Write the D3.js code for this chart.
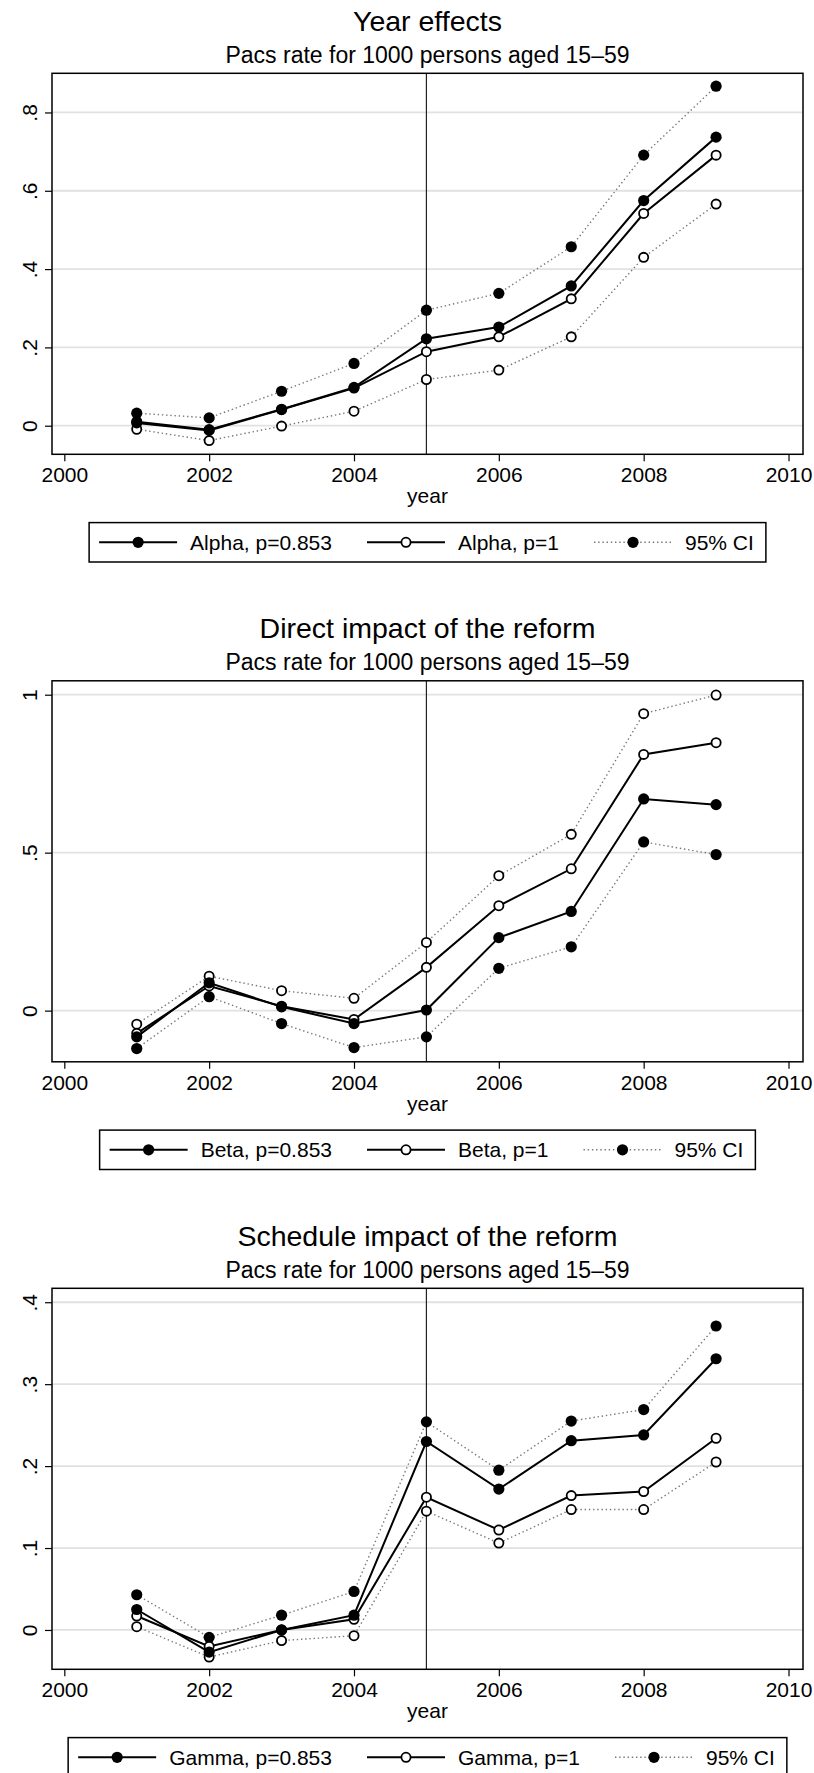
<!DOCTYPE html>
<html>
<head>
<meta charset="utf-8">
<script src="https://cdn.jsdelivr.net/npm/d3@7"></script>
<style>
html,body{margin:0;padding:0;background:#fff;}
svg{display:block;font-family:"Liberation Sans",Arial,Helvetica,sans-serif;}
</style>
</head>
<body>
<svg id="chart" width="814" height="1773"></svg>
<script>
// ---------------- data ----------------
const years = [2001, 2002, 2003, 2004, 2005, 2006, 2007, 2008, 2009];
const xTicks = [2000, 2002, 2004, 2006, 2008, 2010];
const reformYear = 2005;

const panelTitles = ["Year effects", "Direct impact of the reform", "Schedule impact of the reform"];
const subtitleText = "Pacs rate for 1000 persons aged 15\u201359";
const xAxisTitle = "year";

// Year effects (Alpha)
const alpha853   = [0.010, -0.010, 0.042, 0.098, 0.222, 0.252, 0.357, 0.575, 0.737];
const alpha1     = [0.007, -0.012, 0.041, 0.096, 0.189, 0.227, 0.324, 0.542, 0.691];
const alphaCIhi  = [0.032, 0.020, 0.088, 0.159, 0.295, 0.338, 0.457, 0.691, 0.867];
const alphaCIlo  = [-0.009, -0.038, -0.001, 0.037, 0.118, 0.142, 0.227, 0.430, 0.566];

// Direct impact (Beta)
const beta853    = [-0.083, 0.088, 0.012, -0.041, 0.002, 0.231, 0.314, 0.670, 0.652];
const beta1      = [-0.072, 0.078, 0.014, -0.028, 0.137, 0.332, 0.449, 0.811, 0.848];
const betaCIhi   = [-0.043, 0.109, 0.063, 0.039, 0.216, 0.427, 0.558, 0.940, 0.999];
const betaCIlo   = [-0.120, 0.044, -0.041, -0.117, -0.083, 0.134, 0.202, 0.534, 0.494];

// Schedule impact (Gamma)
const gamma853   = [0.025, -0.027, 0.000, 0.018, 0.230, 0.172, 0.231, 0.238, 0.331];
const gamma1     = [0.017, -0.020, 0.000, 0.013, 0.162, 0.122, 0.164, 0.169, 0.234];
const gammaCIhi  = [0.043, -0.009, 0.018, 0.047, 0.254, 0.195, 0.255, 0.269, 0.371];
const gammaCIlo  = [0.004, -0.033, -0.013, -0.007, 0.145, 0.106, 0.147, 0.147, 0.205];

const legendLabels = [
  ["Alpha, p=0.853", "Alpha, p=1", "95% CI"],
  ["Beta, p=0.853", "Beta, p=1", "95% CI"],
  ["Gamma, p=0.853", "Gamma, p=1", "95% CI"]
];

const yTicks = [[0, 0.2, 0.4, 0.6, 0.8], [0, 0.5, 1], [0, 0.1, 0.2, 0.3, 0.4]];
const yTickLabels = [["0", ".2", ".4", ".6", ".8"], ["0", ".5", "1"], ["0", ".1", ".2", ".3", ".4"]];
const yDomains = [[-0.073, 0.900], [-0.162, 1.044], [-0.048, 0.417]];
const xDomain = [1999.83, 2010.2];

// series per panel: filled main, hollow main, CI with filled markers, CI with hollow markers
const panelSeries = [
  { filled: alpha853, hollow: alpha1, ciFilled: alphaCIhi, ciHollow: alphaCIlo },
  { filled: beta853,  hollow: beta1,  ciFilled: betaCIlo,  ciHollow: betaCIhi },
  { filled: gamma853, hollow: gamma1, ciFilled: gammaCIhi, ciHollow: gammaCIlo }
];

// ---------------- layout ----------------
const panelH = 607.5;
const frameL = 52, frameR = 803;
const frameTopOff = 73.3, frameH = 381;
const fs = { title: 28.5, sub: 23, tick: 21, legend: 21, axis: 21 };
const rFilled = 5.6, rHollow = 4.6;

const svg = d3.select("#chart");

const x = d3.scaleLinear().domain(xDomain).range([frameL, frameR]);
const cx = (frameL + frameR) / 2;

panelTitles.forEach((title, i) => {
  const top = i * panelH;
  const fTop = top + frameTopOff, fBot = fTop + frameH;
  const y = d3.scaleLinear().domain(yDomains[i]).range([fBot, fTop]);
  const g = svg.append("g");

  // titles
  g.append("text").attr("x", cx).attr("y", top + 30.8).attr("text-anchor", "middle")
    .attr("font-size", fs.title).attr("fill", "#000").text(title);
  g.append("text").attr("x", cx).attr("y", top + 62.5).attr("text-anchor", "middle")
    .attr("font-size", fs.sub).attr("fill", "#000").text(subtitleText);

  // gridlines
  g.append("g").selectAll("line").data(yTicks[i]).join("line")
    .attr("x1", frameL).attr("x2", frameR)
    .attr("y1", d => y(d)).attr("y2", d => y(d))
    .attr("stroke", "#e1e1e1").attr("stroke-width", 1.8);

  // reform line
  g.append("line").attr("x1", x(reformYear)).attr("x2", x(reformYear))
    .attr("y1", fTop).attr("y2", fBot).attr("stroke", "#222").attr("stroke-width", 1.2);

  // y axis
  const yAxis = d3.axisLeft(y).tickValues(yTicks[i]).tickSize(7)
    .tickFormat((d, k) => yTickLabels[i][k]);
  const ya = g.append("g").attr("transform", `translate(${frameL},0)`).call(yAxis);
  ya.select(".domain").remove();
  ya.selectAll(".tick line").attr("stroke", "#000").attr("stroke-width", 1.2);
  ya.selectAll(".tick text")
    .attr("font-size", fs.tick).attr("font-family", null).attr("fill", "#000")
    .attr("text-anchor", "middle").attr("x", null).attr("dy", null)
    .attr("transform", "translate(-15.5,0) rotate(-90)");

  // x axis
  const xAxis = d3.axisBottom(x).tickValues(xTicks).tickSize(7).tickFormat(d3.format("d"));
  const xa = g.append("g").attr("transform", `translate(0,${fBot})`).call(xAxis);
  xa.select(".domain").remove();
  xa.selectAll(".tick line").attr("stroke", "#000").attr("stroke-width", 1.2);
  xa.selectAll(".tick text").attr("font-size", fs.tick).attr("font-family", null)
    .attr("fill", "#000").attr("y", 28).attr("dy", null);

  g.append("text").attr("x", cx).attr("y", fBot + 48.7).attr("text-anchor", "middle")
    .attr("font-size", fs.axis).attr("fill", "#000").text(xAxisTitle);

  // series
  const s = panelSeries[i];
  const line = d3.line().x((d, k) => x(years[k])).y(d => y(d));
  const dotted = (vals) => g.append("path").datum(vals).attr("d", line)
    .attr("fill", "none").attr("stroke", "#777").attr("stroke-width", 1.4)
    .attr("stroke-dasharray", "1.4,2.8");
  const solid = (vals) => g.append("path").datum(vals).attr("d", line)
    .attr("fill", "none").attr("stroke", "#000").attr("stroke-width", 2);
  const filledPts = (vals) => g.append("g").selectAll("circle").data(vals).join("circle")
    .attr("cx", (d, k) => x(years[k])).attr("cy", d => y(d)).attr("r", rFilled).attr("fill", "#000");
  const hollowPts = (vals) => g.append("g").selectAll("circle").data(vals).join("circle")
    .attr("cx", (d, k) => x(years[k])).attr("cy", d => y(d)).attr("r", rHollow)
    .attr("fill", "#fff").attr("stroke", "#000").attr("stroke-width", 1.8);

  dotted(s.ciFilled); dotted(s.ciHollow);
  solid(s.filled); solid(s.hollow);
  filledPts(s.ciFilled); hollowPts(s.ciHollow);
  hollowPts(s.hollow); filledPts(s.filled);

  // frame
  g.append("rect").attr("x", frameL).attr("y", fTop).attr("width", frameR - frameL)
    .attr("height", frameH).attr("fill", "none").attr("stroke", "#000").attr("stroke-width", 1.5);

  // legend
  const lgTop = fBot + 68.3, lgH = 39.4, lgMid = lgTop + lgH / 2;
  const keyW = 78, keyGap = 13, itemGap = 35, padL = 10, padR = 12;
  const lg = g.append("g");
  const box = lg.append("rect");
  const items = lg.selectAll("g.item").data(legendLabels[i]).join("g").attr("class", "item");
  const texts = items.append("text").attr("font-size", fs.legend).attr("fill", "#000")
    .attr("y", lgMid + fs.legend * 0.36).text(d => d);
  let widths = [];
  texts.each(function () { widths.push(this.getComputedTextLength()); });
  const total = padL + padR + widths.reduce((a, b) => a + b, 0) + 3 * (keyW + keyGap) + 2 * itemGap;
  let cur = cx - total / 2 + padL;
  box.attr("x", cx - total / 2).attr("y", lgTop).attr("width", total).attr("height", lgH)
    .attr("fill", "#fff").attr("stroke", "#000").attr("stroke-width", 1.5);
  items.each(function (d, k) {
    const it = d3.select(this);
    const kx = cur;
    const kl = it.insert("line", "text").attr("x1", kx).attr("x2", kx + keyW)
      .attr("y1", lgMid).attr("y2", lgMid);
    if (k < 2) kl.attr("stroke", "#000").attr("stroke-width", 2);
    else kl.attr("stroke", "#777").attr("stroke-width", 1.4).attr("stroke-dasharray", "1.4,2.8");
    const c = it.insert("circle", "text").attr("cx", kx + keyW / 2).attr("cy", lgMid);
    if (k === 1) c.attr("r", rHollow).attr("fill", "#fff").attr("stroke", "#000").attr("stroke-width", 1.8);
    else c.attr("r", rFilled).attr("fill", "#000");
    it.select("text").attr("x", kx + keyW + keyGap);
    cur = kx + keyW + keyGap + widths[k] + itemGap;
  });
});
</script>
</body>
</html>
